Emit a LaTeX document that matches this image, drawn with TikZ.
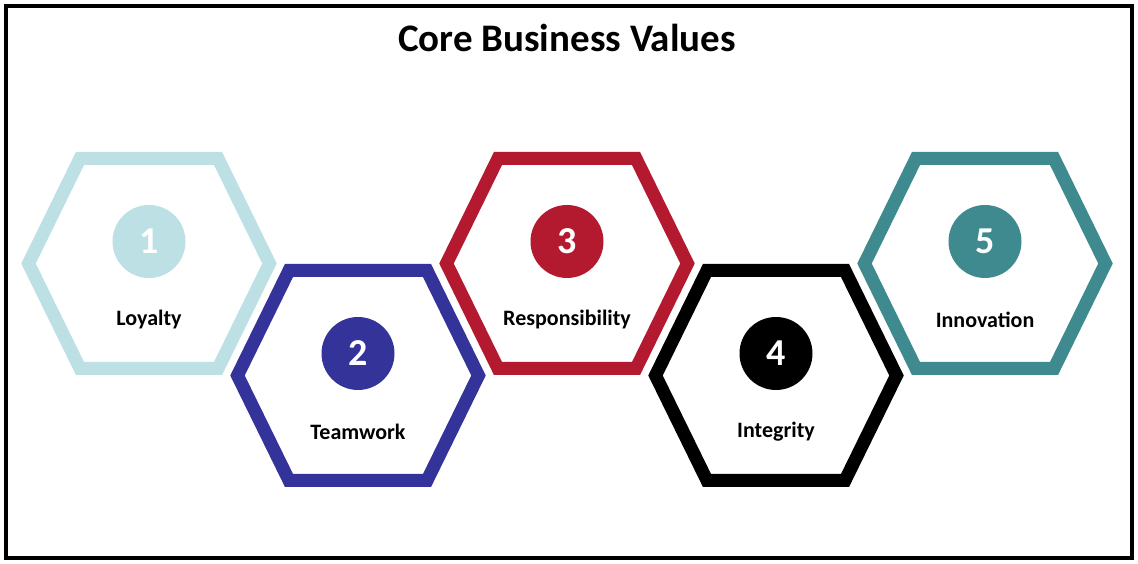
\documentclass[tikz,border=0pt]{standalone}
\usepackage{fontspec}
\setmainfont{Carlito}
\usetikzlibrary{positioning}
\definecolor{vloyal}{HTML}{BCE0E3}
\definecolor{vteam}{HTML}{33339A}
\definecolor{vresp}{HTML}{B41A2F}
\definecolor{vinteg}{HTML}{000000}
\definecolor{vinnov}{HTML}{3E8A8F}
\tikzset{
  % bordo dell'esagono
  hexline/.style={line width=13pt, line join=miter},
  % cerchio con il numero
  numdot/.style={circle, minimum size=73pt, inner sep=0pt, text=white,
    font=\fontsize{38}{38}\selectfont\bfseries},
  % nome del valore
  vlbl/.style={font=\fontsize{22}{22}\selectfont\bfseries, align=center},
}
\begin{document}
\begin{tikzpicture}[x=1pt, y=1pt]
  \useasboundingbox (0,0) rectangle (1138,564);
  \draw[line width=4pt] (6,6) rectangle (1132,558);
  \node[font=\fontsize{39}{39}\selectfont\bfseries] (title) at (567,526) {Core Business Values};
  \foreach \i/\x/\y/\col/\lab in {1/149/300.5/vloyal/Loyalty, 2/358/188.5/vteam/Teamwork,
    3/567/300.5/vresp/Responsibility, 4/776/188.5/vinteg/Integrity, 5/985/300.5/vinnov/Innovation} {
    \coordinate (hex\i) at (\x,\y);
    \draw[hexline, draw=\col] ([shift={(-120.5,0)}]hex\i) -- ([shift={(-69,105)}]hex\i)
      -- ([shift={(69,105)}]hex\i) -- ([shift={(120.5,0)}]hex\i)
      -- ([shift={(69,-105)}]hex\i) -- ([shift={(-69,-105)}]hex\i) -- cycle;
    \node[numdot, fill=\col] (num\i) at ([yshift=22pt]hex\i) {\i};
    \node[vlbl] (lab\i) at ([yshift=-56pt]hex\i) {\lab};
  }
\end{tikzpicture}
\end{document}
